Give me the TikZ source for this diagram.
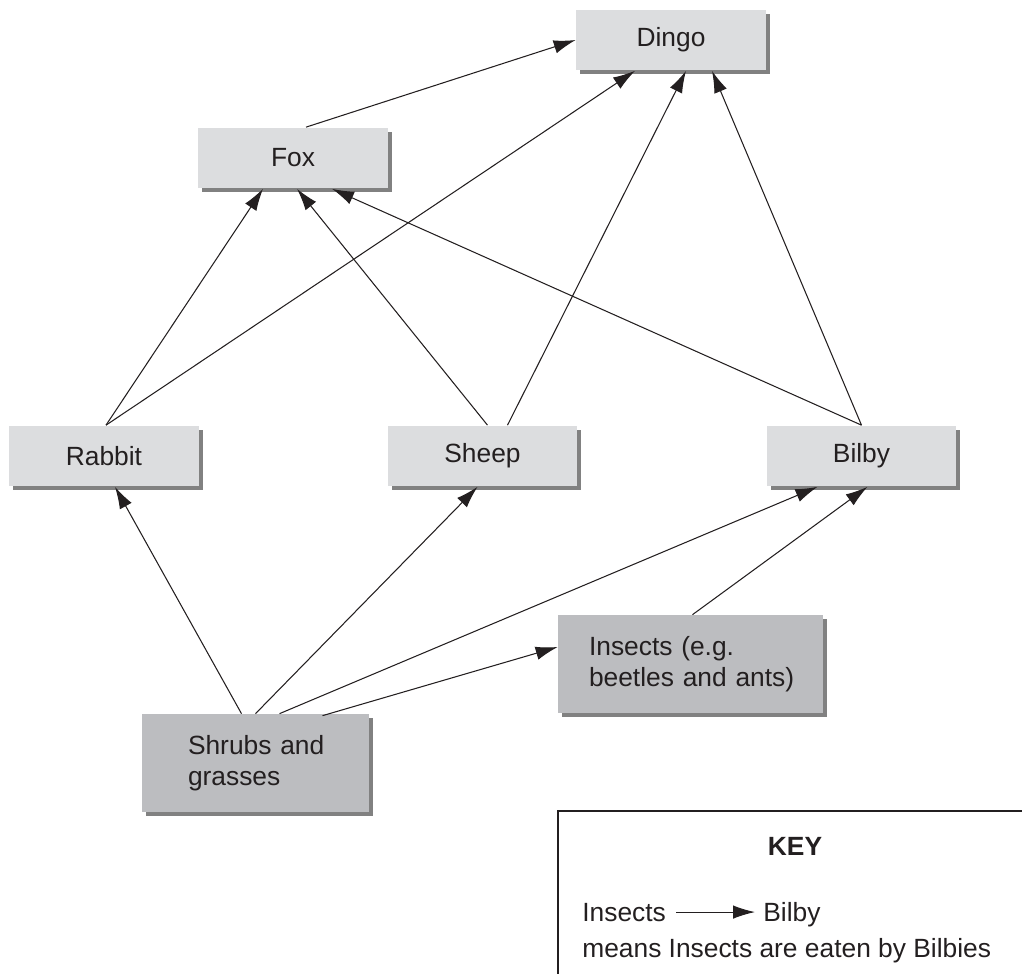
\documentclass[tikz,border=0pt]{standalone}
\usepackage{fontspec}
\setmainfont{Liberation Sans}
\usetikzlibrary{arrows.meta,shadows,calc}
\definecolor{lightbox}{RGB}{220,221,223}
\definecolor{darkbox}{RGB}{188,189,192}
\definecolor{ink}{RGB}{35,31,32}

\begin{document}
\begin{tikzpicture}[x=0.02cm,y=-0.02cm,
  animal/.style={fill=lightbox, minimum width=3.8cm, minimum height=1.22cm, inner sep=0pt,
    drop shadow={shadow xshift=0.08cm, shadow yshift=-0.08cm, fill=black!70, opacity=0.7},
    font=\fontsize{15}{18}\selectfont, text=ink},
  plant/.style={animal, fill=darkbox, minimum height=1.96cm, align=left},
  eats/.style={draw=ink, line width=0.6pt, -{Latex[length=0.44cm,width=0.27cm]}},
  keytext/.style={anchor=base west, inner sep=0pt, font=\fontsize{15}{18}\selectfont, text=ink}]

\useasboundingbox (0,0) rectangle (1022,974);

% food web
\node[animal] (dingo) at (671,40) {Dingo};
\node[animal] (fox) at (293,158) {Fox};
\node[animal] (rabbit) at (104,456) {Rabbit};
\node[animal] (sheep) at (482.5,456) {Sheep};
\node[animal] (bilby) at (861.5,456) {Bilby};
\node[plant, minimum width=5.3cm, text width=4.06cm] (insects) at (690.5,664) {Insects (e.g.\\beetles~and~ants)};
\node[plant, minimum width=4.54cm, text width=2.7cm] (shrubs) at (255.5,763) {Shrubs~and\\grasses};

\draw[eats] ($(fox.north)+(13,0)$) -- (dingo.west);
\draw[eats] ($(rabbit.north)+(2,0)$) -- ($(fox.south)+(-30,0)$);
\draw[eats] ($(rabbit.north)+(2,0)$) -- ($(dingo.south)+(-36,0)$);
\draw[eats] ($(sheep.north)+(5,0)$) -- ($(fox.south)+(4,0)$);
\draw[eats] ($(sheep.north)+(25,0)$) -- ($(dingo.south)+(15,0)$);
\draw[eats] (bilby.north) -- ($(fox.south)+(39,0)$);
\draw[eats] (bilby.north) -- ($(dingo.south)+(41,0)$);
\draw[eats] ($(shrubs.north)+(-14,0)$) -- ($(rabbit.south)+(11,0)$);
\draw[eats] (shrubs.north) -- ($(sheep.south)+(-5,0)$);
\draw[eats] ($(shrubs.north)+(24,0)$) -- ($(bilby.south)+(-44,0)$);
\draw[eats] ($(shrubs.north)+(67,2)$) -- ($(insects.west)+(0,-17)$);
\draw[eats] ($(insects.north)+(2,0)$) -- ($(bilby.south)+(6,0)$);

% key
\draw[draw=ink, line width=0.6pt] (1022,811) -- (558,811) -- (558,974);
\node[font=\fontsize{15}{18}\selectfont\bfseries, text=ink] (keytitle) at (795,846) {KEY};
\node[keytext] (keyinsects) at (582,921) {Insects};
\node[keytext] (keybilby) at (763,921) {Bilby};
\node[keytext] (keymeans) at (582,957) {means Insects are eaten by Bilbies};
\draw[eats] ($(keyinsects.east)+(10,0)$) -- ($(keybilby.west |- keyinsects.east)+(-8,0)$);

\end{tikzpicture}
\end{document}
